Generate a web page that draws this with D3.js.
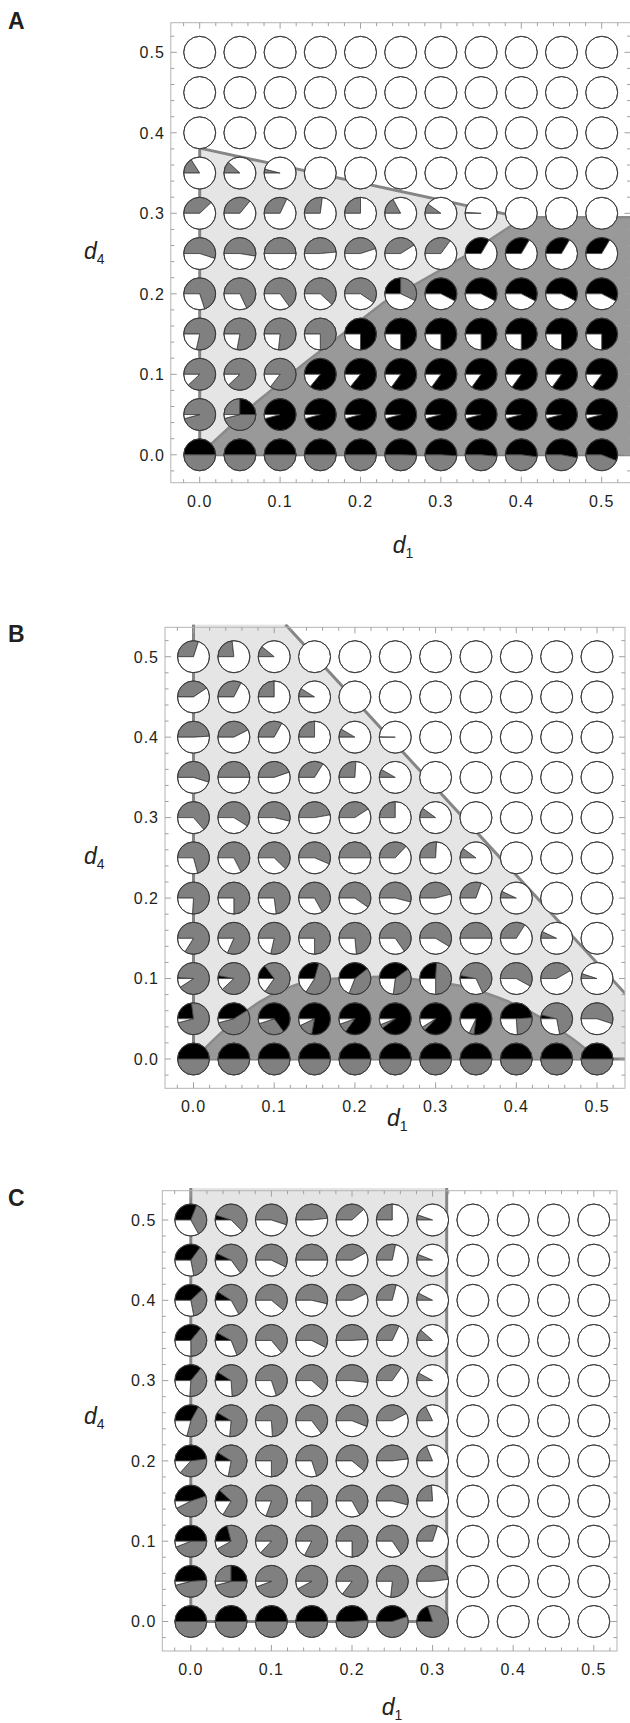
<!DOCTYPE html>
<html><head><meta charset="utf-8">
<script src="https://cdn.jsdelivr.net/npm/d3@7"></script>
<style>body{margin:0;background:#fff}svg{display:block}</style>
</head><body>
<svg id="c" width="630" height="1723"></svg>
<script>
// ---------- grid / ticks ----------
const gridD1 = [0,0.05,0.1,0.15,0.2,0.25,0.3,0.35,0.4,0.45,0.5];
const gridD4 = [0,0.05,0.1,0.15,0.2,0.25,0.3,0.35,0.4,0.45,0.5];
const majorTicks = [0,0.1,0.2,0.3,0.4,0.5];
const tickLabels = ["0.0","0.1","0.2","0.3","0.4","0.5"];
const minorTicks = [-0.02,0,0.02,0.04,0.06,0.08,0.1,0.12,0.14,0.16,0.18,0.2,0.22,0.24,0.26,0.28,0.3,0.32,0.34,0.36,0.38,0.4,0.42,0.44,0.46,0.48,0.5,0.52];

// ---------- Panel A (rows: d4 = 0.0 ... 0.5; cols: d1 = 0.0 ... 0.5) ----------
// fractions of the pie, clockwise from 9 o'clock: [leadGray], black, gray, white = rest
const A_black = [
 [0.5,0.5,0.5,0.5,0.5,0.505,0.51,0.515,0.52,0.53,0.56],
 [0,0.25,0.958,0.958,0.958,0.958,0.958,0.958,0.958,0.958,0.958],
 [0,0,0,0.86,0.86,0.85,0.85,0.85,0.85,0.85,0.85],
 [0,0,0,0,0.75,0.75,0.75,0.75,0.75,0.75,0.75],
 [0,0,0,0,0,0.25,0.575,0.575,0.575,0.575,0.575],
 [0,0,0,0,0,0,0,0.335,0.335,0.335,0.335],
 [0,0,0,0,0,0,0,0,0,0,0],
 [0,0,0,0,0,0,0,0,0,0,0],
 [0,0,0,0,0,0,0,0,0,0,0],
 [0,0,0,0,0,0,0,0,0,0,0],
 [0,0,0,0,0,0,0,0,0,0,0]
];
const A_gray = [
 [0.5,0.5,0.5,0.5,0.5,0.495,0.49,0.485,0.48,0.47,0.44],
 [0.958,0.46,0,0,0,0,0,0,0,0,0],
 [0.88,0.88,0.855,0,0,0,0,0,0,0,0],
 [0.785,0.78,0.767,0.75,0,0,0,0,0,0,0],
 [0.70,0.68,0.65,0.618,0.594,0.32,0,0,0,0,0],
 [0.55,0.526,0.5,0.485,0.45,0.41,0.35,0,0,0,0],
 [0.38,0.36,0.32,0.27,0.25,0.17,0.1,0.01,0,0,0],
 [0.16,0.12,0.04,0,0,0,0,0,0,0,0],
 [0,0,0,0,0,0,0,0,0,0,0],
 [0,0,0,0,0,0,0,0,0,0,0],
 [0,0,0,0,0,0,0,0,0,0,0]
];
const A_leadGray = [[1,1,0.25]]; // [row, col, fraction]
const A_lightRegion = [[0,0],[0,0.381],[0.395,0.296],[0.56,0.296],[0.56,0]];
const A_lightEdges = [[[0,0],[0,0.381],[0.395,0.296]],[[0,0],[0.56,0]]];
const A_darkRegion = [[0.003,0],[0.015,0.014],[0.07,0.065],[0.133,0.116],[0.23,0.19],[0.33,0.247],[0.385,0.283],[0.405,0.295],[0.56,0.295],[0.56,0]];
const A_darkEdges = [[[0.003,0],[0.015,0.014],[0.07,0.065],[0.133,0.116],[0.23,0.19],[0.33,0.247],[0.385,0.283],[0.405,0.295],[0.56,0.295]]];

// ---------- Panel B ----------
const B_black = [
 [0.5,0.5,0.5,0.5,0.5,0.5,0.5,0.5,0.5,0.5,0.5],
 [0.23,0.41,0.65,0.78,0.85,0.90,0.87,0.77,0.49,0.04,0],
 [0.01,0.03,0.148,0.295,0.394,0.40,0.26,0.03,0,0,0],
 [0,0,0,0,0,0,0,0,0,0,0],
 [0,0,0,0,0,0,0,0,0,0,0],
 [0,0,0,0,0,0,0,0,0,0,0],
 [0,0,0,0,0,0,0,0,0,0,0],
 [0,0,0,0,0,0,0,0,0,0,0],
 [0,0,0,0,0,0,0,0,0,0,0],
 [0,0,0,0,0,0,0,0,0,0,0],
 [0,0,0,0,0,0,0,0,0,0,0]
];
const B_gray = [
 [0.5,0.5,0.5,0.5,0.5,0.5,0.5,0.5,0.5,0.5,0.5],
 [0.73,0.55,0.30,0.15,0.095,0.04,0.04,0.05,0.25,0.68,0.55],
 [0.898,0.85,0.70,0.545,0.416,0.37,0.49,0.65,0.58,0.417,0.05],
 [0.84,0.816,0.786,0.75,0.735,0.653,0.586,0.5,0.34,0.07,0],
 [0.76,0.75,0.73,0.67,0.597,0.54,0.46,0.305,0.07,0,0],
 [0.708,0.675,0.623,0.563,0.5,0.37,0.26,0.1,0,0,0],
 [0.636,0.589,0.536,0.472,0.408,0.25,0.1,0,0,0,0],
 [0.549,0.5,0.447,0.339,0.26,0.083,0,0,0,0,0],
 [0.49,0.425,0.33,0.25,0.085,0.003,0,0,0,0,0],
 [0.405,0.325,0.25,0.089,0,0,0,0,0,0,0],
 [0.30,0.233,0.11,0,0,0,0,0,0,0,0]
];
const B_leadGray = [];
const B_lightRegion = [[0,0],[0,0.54],[0.114,0.54],[0.56,0.054],[0.56,0]];
const B_lightEdges = [[[0,0],[0,0.54]],[[0.114,0.54],[0.56,0.054]],[[0,0],[0.56,0]]];
const B_darkRegion = [[0.004,0],[0.016,0.015],[0.082,0.071],[0.14,0.096],[0.177,0.1],[0.243,0.102],[0.29,0.097],[0.334,0.09],[0.368,0.08],[0.413,0.061],[0.454,0.036],[0.483,0.015],[0.50,0]];
const B_darkEdges = [B_darkRegion];

// ---------- Panel C ----------
const C_black = [
 [0.5,0.5,0.5,0.5,0.49,0.45,0.2,0,0,0,0],
 [0.49,0.25,0,0,0,0,0,0,0,0,0],
 [0.5,0.21,0,0,0,0,0,0,0,0,0],
 [0.45,0.12,0,0,0,0,0,0,0,0,0],
 [0.48,0.09,0,0,0,0,0,0,0,0,0],
 [0.33,0.085,0,0,0,0,0,0,0,0,0],
 [0.36,0.09,0,0,0,0,0,0,0,0,0],
 [0.36,0.08,0,0,0,0,0,0,0,0,0],
 [0.38,0.09,0,0,0,0,0,0,0,0,0],
 [0.35,0.07,0,0,0,0,0,0,0,0,0],
 [0.31,0.05,0,0,0,0,0,0,0,0,0]
];
const C_gray = [
 [0.5,0.5,0.5,0.5,0.51,0.55,0.8,0,0,0,0],
 [0.47,0.46,0.944,0.922,0.853,0.767,0.48,0,0,0,0],
 [0.44,0.71,0.87,0.825,0.75,0.656,0.30,0,0,0,0],
 [0.475,0.716,0.805,0.75,0.67,0.54,0.24,0,0,0,0],
 [0.387,0.69,0.75,0.70,0.61,0.48,0.187,0,0,0,0],
 [0.46,0.68,0.74,0.647,0.56,0.425,0.178,0,0,0,0],
 [0.40,0.65,0.70,0.614,0.52,0.347,0.08,0,0,0,0],
 [0.39,0.61,0.64,0.575,0.49,0.32,0.115,0,0,0,0],
 [0.34,0.58,0.61,0.536,0.43,0.29,0.075,0,0,0,0],
 [0.37,0.58,0.572,0.5,0.422,0.283,0.06,0,0,0,0],
 [0.36,0.575,0.55,0.483,0.383,0.25,0.053,0,0,0,0]
];
const C_leadGray = [[1,1,0.25]];
const C_lightRegion = [[0,0],[0,0.54],[0.3175,0.54],[0.3175,0]];
const C_lightEdges = [[[0,0.54],[0,0],[0.3175,0],[0.3175,0.54]]];

// ---------- layout ----------
const panels = [
 {name:"A", x0:199.7, x5:601.7, y0:454.8, y5:52.3, left:170.8, right:630.5, top:22.7, bottom:482.7,
  black:A_black, gray:A_gray, lead:A_leadGray,
  regions:[{pts:A_lightRegion, edges:A_lightEdges, fill:"#e5e5e5", stroke:"#858585", sw:3, curve:false},
           {pts:A_darkRegion, edges:A_darkEdges, fill:"#999999", stroke:"#8a8a8a", sw:2.5, curve:false}],
  letterY:29, labY:553, d4Y:259},
 {name:"B", x0:193.5, x5:597, y0:1059, y5:656.7, left:165, right:625, top:627.3, bottom:1088.3,
  black:B_black, gray:B_gray, lead:B_leadGray,
  regions:[{pts:B_lightRegion, edges:B_lightEdges, fill:"#e5e5e5", stroke:"#858585", sw:3, curve:false},
           {pts:B_darkRegion, edges:B_darkEdges, fill:"#999999", stroke:"#8a8a8a", sw:2.5, curve:true}],
  letterY:642, labY:1126, d4Y:864},
 {name:"C", x0:190.8, x5:593.8, y0:1621.5, y5:1220, left:162.3, right:617, top:1190.7, bottom:1651,
  black:C_black, gray:C_gray, lead:C_leadGray,
  regions:[{pts:C_lightRegion, edges:C_lightEdges, fill:"#e5e5e5", stroke:"#858585", sw:3, curve:false}],
  letterY:1206, labY:1715, d4Y:1424}
];

const svg = d3.select("#c");
const defs = svg.append("defs");
const R = 16;
const sliceColors = ["#808080","#000000","#808080","#ffffff"];
const arc = d3.arc().innerRadius(0).outerRadius(R);

panels.forEach(p => {
  const x = d3.scaleLinear().domain([0,0.5]).range([p.x0,p.x5]);
  const y = d3.scaleLinear().domain([0,0.5]).range([p.y0,p.y5]);
  const g = svg.append("g");
  const cid = "clip" + p.name;
  defs.append("clipPath").attr("id",cid).append("rect")
    .attr("x",p.left).attr("y",p.top-3).attr("width",p.right-p.left).attr("height",p.bottom-p.top+3);
  const rg = g.append("g").attr("clip-path",`url(#${cid})`);
  p.regions.forEach(reg => {
    const ln = d3.line().x(d=>x(d[0])).y(d=>y(d[1]));
    if (reg.curve) ln.curve(d3.curveCatmullRom);
    rg.append("path").attr("d", ln(reg.pts) + "Z").attr("fill",reg.fill);
    reg.edges.forEach(e => rg.append("path").attr("d", ln(e)).attr("fill","none")
      .attr("stroke",reg.stroke).attr("stroke-width",reg.sw).attr("stroke-linejoin","round"));
  });
  // frame
  g.append("rect").attr("x",p.left).attr("y",p.top).attr("width",p.right-p.left).attr("height",p.bottom-p.top)
    .attr("fill","none").attr("stroke","#b4b4b4").attr("stroke-width",1);
  const tg = g.append("g").attr("stroke","#a0a0a0").attr("stroke-width",1);
  const isMajor = v => majorTicks.some(m => Math.abs(m-v) < 1e-9);
  minorTicks.forEach(v => {
    const L = isMajor(v) ? 6 : 3.5;
    const px = x(v), py = y(v);
    if (px > p.left && px < p.right) {
      tg.append("line").attr("x1",px).attr("x2",px).attr("y1",p.bottom).attr("y2",p.bottom-L);
      tg.append("line").attr("x1",px).attr("x2",px).attr("y1",p.top).attr("y2",p.top+L);
    }
    if (py > p.top && py < p.bottom) {
      tg.append("line").attr("y1",py).attr("y2",py).attr("x1",p.left).attr("x2",p.left+L);
      tg.append("line").attr("y1",py).attr("y2",py).attr("x1",p.right).attr("x2",p.right-L);
    }
  });
  // tick labels
  majorTicks.forEach((v,i) => {
    g.append("text").attr("x",x(v)).attr("y",p.bottom+24).attr("text-anchor","middle")
      .attr("font-family","Liberation Sans, Arial, sans-serif").attr("font-size",16).attr("letter-spacing",1)
      .attr("fill","#231f20").text(tickLabels[i]);
    g.append("text").attr("x",p.left-6).attr("y",y(v)+5.8).attr("text-anchor","end")
      .attr("font-family","Liberation Sans, Arial, sans-serif").attr("font-size",16).attr("letter-spacing",1)
      .attr("fill","#231f20").text(tickLabels[i]);
  });
  // axis titles
  const cx = (p.left + p.right)/2 - 8;
  const t1 = g.append("text").attr("x",cx).attr("y",p.labY).attr("font-family","Liberation Sans, Arial, sans-serif").attr("fill","#231f20");
  t1.append("tspan").attr("font-style","italic").attr("font-size",23).text("d");
  t1.append("tspan").attr("font-size",14).attr("dy",5).text("1");
  const t4 = g.append("text").attr("x",84).attr("y",p.d4Y).attr("font-family","Liberation Sans, Arial, sans-serif").attr("fill","#231f20");
  t4.append("tspan").attr("font-style","italic").attr("font-size",23).text("d");
  t4.append("tspan").attr("font-size",14).attr("dy",5).text("4");
  // panel letter
  g.append("text").attr("x",8).attr("y",p.letterY).attr("font-family","Liberation Sans, Arial, sans-serif")
    .attr("font-weight","bold").attr("font-size",23).attr("fill","#231f20").text(p.name);
  // pies
  const pg = g.append("g");
  gridD4.forEach((d4,r) => {
    gridD1.forEach((d1,c) => {
      const lead = (p.lead.find(e => e[0]===r && e[1]===c) || [0,0,0])[2];
      const b = p.black[r][c], gr = p.gray[r][c];
      const w = Math.max(0, 1 - lead - b - gr);
      const vals = [lead,b,gr,w];
      const cg = pg.append("g").attr("transform",`translate(${x(d1)},${y(d4)})`);
      let start = -Math.PI/2;
      vals.forEach((v,k) => {
        if (v <= 1e-6) return;
        const end = start + v*2*Math.PI;
        cg.append("path").attr("d", arc({startAngle:start,endAngle:end}))
          .attr("fill",sliceColors[k]).attr("stroke","#3a3a3a").attr("stroke-width",0.8).attr("stroke-linejoin","round");
        start = end;
      });
      cg.append("circle").attr("r",R).attr("fill","none").attr("stroke","#3a3a3a").attr("stroke-width",1);
    });
  });
});
</script>
</body></html>
